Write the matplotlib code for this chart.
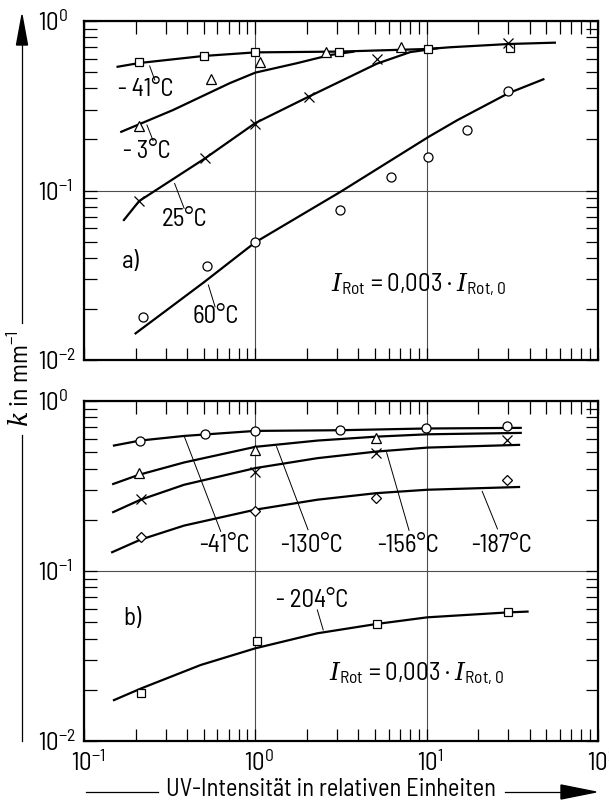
import numpy as np
import matplotlib
matplotlib.use('Agg')
import matplotlib.pyplot as plt
import matplotlib.ticker as ticker
import matplotlib.transforms as mtransforms
from matplotlib.lines import Line2D
from matplotlib.patches import Polygon
from matplotlib import font_manager

# narrow DIN-like face if present, otherwise fall back
installed = {f.name for f in font_manager.fontManager.ttflist}
main_font = 'DejaVu Sans'
for cand in ['Barlow Semi Condensed', 'Roboto Condensed', 'Liberation Sans Narrow']:
    if cand in installed:
        main_font = cand
        break

plt.rcParams['font.family'] = [main_font, 'DejaVu Sans']
plt.rcParams['mathtext.fontset'] = 'custom'
plt.rcParams['mathtext.rm'] = main_font
plt.rcParams['mathtext.it'] = 'DejaVu Serif:italic'

# --- panel a) measured points ---
a_x_m41 = [0.21, 0.5, 1.0, 3.07, 10.2, 30.5]
a_k_m41 = [0.57, 0.622, 0.659, 0.659, 0.684, 0.69]
a_x_m3 = [0.21, 0.55, 1.06, 2.58, 7.1]
a_k_m3 = [0.24, 0.453, 0.575, 0.659, 0.706]
a_x_25 = [0.21, 0.51, 1.0, 2.05, 5.13, 30.0]
a_k_25 = [0.0867, 0.155, 0.247, 0.357, 0.594, 0.745]
a_x_60 = [0.22, 0.525, 1.0, 3.12, 6.2, 10.2, 17.1, 30.0]
a_k_60 = [0.0179, 0.036, 0.0495, 0.0767, 0.12, 0.158, 0.2275, 0.388]

# --- panel a) drawn curves ---
ca_x_m41 = [0.157, 0.21, 0.5, 1.0, 3.1, 10.2, 13.7, 30.5, 56]
ca_k_m41 = [0.537, 0.565, 0.622, 0.653, 0.66, 0.684, 0.70, 0.732, 0.745]
ca_x_m3 = [0.165, 0.33, 0.71, 1.0, 1.74, 2.73, 3.73]
ca_k_m3 = [0.222, 0.298, 0.43, 0.496, 0.563, 0.63, 0.659]
ca_x_25 = [0.171, 0.21, 0.51, 1.0, 2.04, 5.12, 8.0, 11.5]
ca_k_25 = [0.067, 0.0867, 0.155, 0.25, 0.357, 0.56, 0.655, 0.69]
ca_x_60 = [0.2, 0.3, 0.5, 1.0, 3.15, 10.3, 15.1, 30, 48]
ca_k_60 = [0.01436, 0.0195, 0.0287, 0.0495, 0.0984, 0.2077, 0.26, 0.375, 0.453]

# --- panel b) measured points ---
b_x_m41 = [0.212, 0.506, 1.0, 3.1, 9.87, 29.5]
b_k_m41 = [0.585, 0.637, 0.67, 0.673, 0.698, 0.71]
b_x_m130 = [0.209, 1.0, 5.08]
b_k_m130 = [0.377, 0.516, 0.604]
b_x_m156 = [0.214, 1.0, 5.08, 29.5]
b_k_m156 = [0.265, 0.38, 0.493, 0.59]
b_x_m187 = [0.214, 1.0, 5.08, 29.5]
b_k_m187 = [0.158, 0.2243, 0.269, 0.344]
b_x_m204 = [0.216, 1.02, 5.1, 30]
b_k_m204 = [0.0191, 0.0389, 0.0488, 0.0576]

# --- panel b) drawn curves ---
cb_x_m41 = [0.1496, 0.212, 0.384, 1.0, 3.1, 9.87, 35.4]
cb_k_m41 = [0.547, 0.585, 0.623, 0.667, 0.673, 0.689, 0.695]
cb_x_m130 = [0.148, 0.209, 0.384, 1.0, 2.3, 5.08, 10.1, 35.4]
cb_k_m130 = [0.325, 0.368, 0.435, 0.5375, 0.585, 0.617, 0.637, 0.649]
cb_x_m156 = [0.148, 0.214, 0.384, 1.0, 2.3, 5.08, 10.1, 34.6]
cb_k_m156 = [0.222, 0.2627, 0.3216, 0.403, 0.461, 0.504, 0.532, 0.552]
cb_x_m187 = [0.146, 0.214, 0.384, 1.0, 2.3, 5.08, 10.1, 34.6]
cb_k_m187 = [0.129, 0.153, 0.185, 0.2295, 0.2626, 0.287, 0.3006, 0.312]
cb_x_m204 = [0.1496, 0.216, 0.48, 1.0, 2.3, 5.1, 10.1, 30, 38.8]
cb_k_m204 = [0.0174, 0.0204, 0.028, 0.0351, 0.043, 0.0488, 0.0534, 0.0571, 0.0577]

# labels: text, centre x, centre y, leader start, leader end
a_labels = [('- 41°C', 0.229, 0.392, (0.2417, 0.5426), (0.2588, 0.4487)),
            ('- 3°C', 0.233, 0.169, (0.233, 0.2434), (0.253, 0.197)),
            ('25°C', 0.384, 0.067, (0.338, 0.110), (0.384, 0.0785)),
            ('60°C', 0.587, 0.018, (0.532, 0.0277), (0.582, 0.0206))]
b_labels = [('-41°C', 0.662, 0.141, (0.384, 0.623), (0.628, 0.171)),
            ('-130°C', 2.12, 0.141, (1.33, 0.539), (2.03, 0.175)),
            ('-156°C', 7.78, 0.141, (5.84, 0.497), (7.89, 0.1735)),
            ('-187°C', 27.5, 0.141, (21.1, 0.294), (25.9, 0.1768)),
            ('- 204°C', 2.15, 0.0675, (2.3, 0.059), (2.49, 0.045))]

formula = r'$I_{\mathrm{Rot}}$ = 0,003 · $I_{\mathrm{Rot,0}}$'

W, H = 609, 801
fig = plt.figure(figsize=(W / 100, H / 100), dpi=100)


def fx(px):
    return px / W


def fy(py):
    return 1 - py / H


ax1 = fig.add_axes([fx(84), fy(360), fx(598) - fx(84), fy(21) - fy(360)])
ax2 = fig.add_axes([fx(84), fy(741), fx(598) - fx(84), fy(401) - fy(741)])

mk = dict(color='black', mfc='white', mec='black', mew=0.9, ls='none', zorder=4)
lw_curve = 1.6
fs_lab = 18


def style_axes(ax, xlabels):
    ax.set_xscale('log')
    ax.set_yscale('log')
    ax.set_xlim(0.1, 100)
    ax.set_ylim(0.01, 1)
    for s in ax.spines.values():
        s.set_linewidth(1.6)
    ax.xaxis.set_major_locator(ticker.LogLocator(base=10))
    ax.xaxis.set_minor_locator(ticker.LogLocator(base=10, subs=np.arange(2, 10)))
    ax.yaxis.set_major_locator(ticker.LogLocator(base=10))
    ax.yaxis.set_minor_locator(ticker.LogLocator(base=10, subs=np.arange(2, 10)))
    fmt = ticker.FuncFormatter(lambda v, p: r'$10^{%d}$' % round(np.log10(v)))
    ax.xaxis.set_major_formatter(fmt)
    ax.yaxis.set_major_formatter(fmt)
    ax.xaxis.set_minor_formatter(ticker.NullFormatter())
    ax.yaxis.set_minor_formatter(ticker.NullFormatter())
    ax.tick_params(which='both', direction='in', top=True, right=True,
                   length=9, width=0.9, labelsize=18)
    ax.tick_params(axis='y', pad=33)
    ax.tick_params(axis='x', pad=7, labelbottom=xlabels)
    for lab in ax.get_yticklabels():
        lab.set_horizontalalignment('left')
    ax.grid(True, which='major', color='0.3', lw=0.8)


style_axes(ax1, False)
style_axes(ax2, True)

# keep the "10" of each x label centred on its tick; 10^2 ends at the frame
for t in ax2.xaxis.get_major_ticks():
    if t.get_loc() > 50:
        t.label1.set_horizontalalignment('right')
        dx = 0.04
    else:
        dx = 0.04
    t.label1.set_transform(t.label1.get_transform() +
                           mtransforms.ScaledTranslation(dx, 0, fig.dpi_scale_trans))

# panel a)
ax1.plot(ca_x_m41, ca_k_m41, color='black', lw=lw_curve)
ax1.plot(ca_x_m3, ca_k_m3, color='black', lw=lw_curve)
ax1.plot(ca_x_25, ca_k_25, color='black', lw=lw_curve)
ax1.plot(ca_x_60, ca_k_60, color='black', lw=lw_curve)
ax1.plot(a_x_m41, a_k_m41, marker='s', ms=5.5, **mk)
ax1.plot(a_x_m3, a_k_m3, marker='^', ms=6.5, **mk)
ax1.plot(a_x_25, a_k_25, marker='x', ms=6.5, **mk)
ax1.plot(a_x_60, a_k_60, marker='o', ms=6.5, **mk)

# panel b)
ax2.plot(cb_x_m41, cb_k_m41, color='black', lw=lw_curve)
ax2.plot(cb_x_m130, cb_k_m130, color='black', lw=lw_curve)
ax2.plot(cb_x_m156, cb_k_m156, color='black', lw=lw_curve)
ax2.plot(cb_x_m187, cb_k_m187, color='black', lw=lw_curve)
ax2.plot(cb_x_m204, cb_k_m204, color='black', lw=lw_curve)
ax2.plot(b_x_m41, b_k_m41, marker='o', ms=6.5, **mk)
ax2.plot(b_x_m130, b_k_m130, marker='^', ms=6.5, **mk)
ax2.plot(b_x_m156, b_k_m156, marker='x', ms=6.5, **mk)
ax2.plot(b_x_m187, b_k_m187, marker='D', ms=5.5, **mk)
ax2.plot(b_x_m204, b_k_m204, marker='s', ms=5.5, **mk)

for ax, labels in [(ax1, a_labels), (ax2, b_labels)]:
    for txt, tx, ty, p0, p1 in labels:
        ax.text(tx, ty, txt, ha='center', va='center', fontsize=fs_lab)
        ax.plot([p0[0], p1[0]], [p0[1], p1[1]], color='black', lw=0.7)

ax1.text(0.187, 0.038, 'a)', ha='center', va='center', fontsize=fs_lab)
ax2.text(0.191, 0.0527, 'b)', ha='center', va='center', fontsize=fs_lab)
ax1.text(2.75, 0.0277, formula, ha='left', va='center', fontsize=18)
ax2.text(2.69, 0.025, formula, ha='left', va='center', fontsize=18)

# y axis label with arrow
fig.add_artist(Line2D([fx(22), fx(22)], [fy(45), fy(323)], color='black', lw=0.9))
fig.add_artist(Line2D([fx(22), fx(22)], [fy(435), fy(741)], color='black', lw=0.9))
fig.add_artist(Polygon([[fx(22), fy(15)], [fx(16.5), fy(45)], [fx(27.5), fy(45)]],
                       closed=True, color='black', transform=fig.transFigure))
fig.text(fx(21), fy(379), r'$k$ in mm$^{-1}$', rotation=90, ha='center', va='center',
         fontsize=18.5)

# x axis label with arrow
fig.add_artist(Line2D([fx(86), fx(158)], [fy(792), fy(792)], color='black', lw=0.9))
fig.add_artist(Line2D([fx(505), fx(562)], [fy(792), fy(792)], color='black', lw=0.9))
fig.add_artist(Polygon([[fx(596), fy(792)], [fx(561), fy(785)], [fx(561), fy(799)]],
                       closed=True, color='black', transform=fig.transFigure))
fig.text(fx(331), fy(789), 'UV-Intensität in relativen Einheiten', ha='center', va='center',
         fontsize=17.5)

fig.savefig('out.png', dpi=100)
